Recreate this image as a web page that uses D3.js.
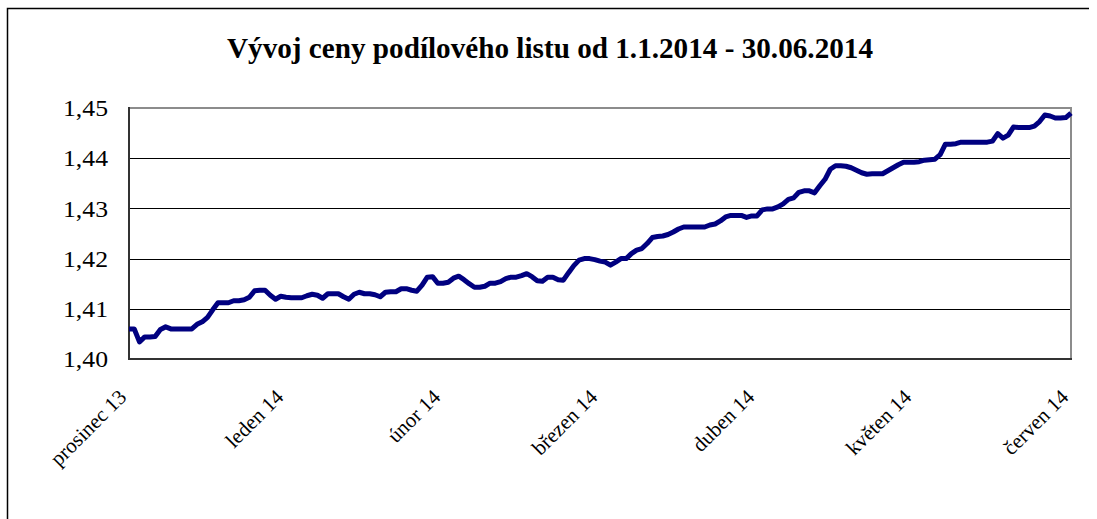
<!DOCTYPE html>
<html>
<head>
<meta charset="utf-8">
<script src="https://cdn.jsdelivr.net/npm/d3@7"></script>
<style>
  body { margin: 0; background: #fff; }
  svg { display: block; }
  text { font-family: "Liberation Serif", "Times New Roman", serif; fill: #000; }
</style>
</head>
<body>
<svg id="chart" width="1097" height="519"></svg>
<script>
// popisky osy x (kazdy 30. den)
const monthLabels = ['prosinec 13', 'leden 14', 'únor 14', 'březen 14', 'duben 14', 'květen 14', 'červen 14'];
const labelStep = 30;

const yTicks = [1.40, 1.41, 1.42, 1.43, 1.44, 1.45];

// denni hodnoty podiloveho listu 1.1.2014 - 30.06.2014
const prices = [
  1.4060, 1.4060, 1.4034, 1.4044, 1.4044, 1.4045, 1.4059, 1.4064, 1.4060, 1.4060,
  1.4060, 1.4060, 1.4060, 1.4069, 1.4074, 1.4083, 1.4098, 1.4112, 1.4112, 1.4112,
  1.4116, 1.4116, 1.4118, 1.4123, 1.4136, 1.4137, 1.4137, 1.4127, 1.4119, 1.4125,
  1.4123, 1.4122, 1.4122, 1.4122, 1.4126, 1.4129, 1.4127, 1.4121, 1.4130, 1.4130,
  1.4130, 1.4124, 1.4119, 1.4129, 1.4133, 1.4130, 1.4130, 1.4128, 1.4124, 1.4133,
  1.4134, 1.4134, 1.4140, 1.4140, 1.4137, 1.4135, 1.4147, 1.4163, 1.4164, 1.4151,
  1.4151, 1.4153, 1.4161, 1.4165, 1.4158, 1.4150, 1.4143, 1.4143, 1.4145, 1.4151,
  1.4151, 1.4154, 1.4160, 1.4163, 1.4163, 1.4166, 1.4170, 1.4164, 1.4156, 1.4155,
  1.4163, 1.4163, 1.4158, 1.4157, 1.4172, 1.4186, 1.4197, 1.4200, 1.4200, 1.4198,
  1.4195, 1.4193, 1.4187, 1.4193, 1.4200, 1.4200, 1.4210, 1.4217, 1.4220, 1.4230,
  1.4242, 1.4244, 1.4245, 1.4248, 1.4253, 1.4259, 1.4263, 1.4263, 1.4263, 1.4263,
  1.4263, 1.4267, 1.4269, 1.4275, 1.4283, 1.4286, 1.4286, 1.4286, 1.4282, 1.4285,
  1.4285, 1.4297, 1.4299, 1.4299, 1.4303, 1.4309, 1.4318, 1.4321, 1.4332, 1.4335,
  1.4335, 1.4331, 1.4345, 1.4358, 1.4378, 1.4385, 1.4385, 1.4384, 1.4381, 1.4376,
  1.4371, 1.4368, 1.4369, 1.4369, 1.4369, 1.4375, 1.4381, 1.4387, 1.4392, 1.4392,
  1.4392, 1.4393, 1.4396, 1.4397, 1.4398, 1.4407, 1.4428, 1.4428, 1.4429, 1.4432,
  1.4432, 1.4432, 1.4432, 1.4432, 1.4432, 1.4434, 1.4449, 1.4440, 1.4446, 1.4462,
  1.4461, 1.4461, 1.4461, 1.4464, 1.4473, 1.4486, 1.4484, 1.4480, 1.4480, 1.4481,
  1.4490
];

const titleText = 'Vývoj ceny podílového listu od 1.1.2014 - 30.06.2014';

const svg = d3.select('#chart');

const plot = {left: 129, right: 1071, top: 108, bottom: 359};

const x = d3.scaleLinear()
  .domain([0, prices.length - 1])
  .range([plot.left, plot.right]);

const y = d3.scaleLinear()
  .domain([1.40, 1.45])
  .range([plot.bottom, plot.top]);

const cz = d3.formatLocale({decimal: ',', thousands: ' ', grouping: [3], currency: ['', ' Kč']});
const fmt = cz.format('.2f');

// ramecek kolem grafu (jen levy a horni okraj je videt)
svg.append('path')
  .attr('d', 'M7.5,519 V8.5 H1089')
  .attr('fill', 'none')
  .attr('stroke', '#000')
  .attr('stroke-width', 1.5);

// nadpis
svg.append('text')
  .attr('x', 550)
  .attr('y', 58)
  .attr('text-anchor', 'middle')
  .attr('font-size', 29)
  .attr('font-weight', 'bold')
  .attr('textLength', 646)
  .attr('lengthAdjust', 'spacingAndGlyphs')
  .text(titleText);

// mrizka
svg.append('g')
  .selectAll('line')
  .data(yTicks.filter(d => d > 1.40 && d < 1.45))
  .join('line')
  .attr('x1', plot.left)
  .attr('x2', plot.right)
  .attr('y1', d => Math.round(y(d)) + 0.5)
  .attr('y2', d => Math.round(y(d)) + 0.5)
  .attr('stroke', '#000')
  .attr('stroke-width', 1);

// horni a pravy okraj plochy
svg.append('path')
  .attr('d', `M${plot.left},${plot.top} H${plot.right} V${plot.bottom}`)
  .attr('fill', 'none')
  .attr('stroke', '#8c8c8c')
  .attr('stroke-width', 2);

// osa y
const yAxis = svg.append('g')
  .attr('transform', `translate(${plot.left},0)`)
  .call(d3.axisLeft(y).tickValues(yTicks).tickSize(0).tickPadding(21).tickFormat(fmt));
yAxis.select('.domain').remove();
yAxis.selectAll('text')
  .attr('font-size', 24)
  .attr('textLength', 45)
  .attr('lengthAdjust', 'spacingAndGlyphs')
  .attr('fill', '#000');

// osa x
const xAxis = svg.append('g')
  .attr('transform', `translate(0,${plot.bottom})`)
  .call(d3.axisBottom(x)
    .tickValues(d3.range(0, prices.length, labelStep))
    .tickSize(0)
    .tickFormat(d => monthLabels[d / labelStep]));
xAxis.select('.domain').remove();
xAxis.selectAll('text')
  .attr('font-size', 21)
  .attr('fill', '#000')
  .attr('text-anchor', 'end')
  .attr('dy', '0.35em')
  .attr('transform', 'translate(-7,34) rotate(-45)')
  .attr('y', 0);

// osy - levy a spodni okraj
svg.append('path')
  .attr('d', `M${plot.left},${plot.top - 1} V${plot.bottom} H${plot.right + 1}`)
  .attr('fill', 'none')
  .attr('stroke', '#333')
  .attr('stroke-width', 2);

// krivka ceny
svg.append('path')
  .datum(prices)
  .attr('fill', 'none')
  .attr('stroke', '#000080')
  .attr('stroke-width', 5)
  .attr('stroke-linejoin', 'round')
  .attr('d', d3.line().x((d, i) => x(i)).y(d => y(d)));
</script>
</body>
</html>
